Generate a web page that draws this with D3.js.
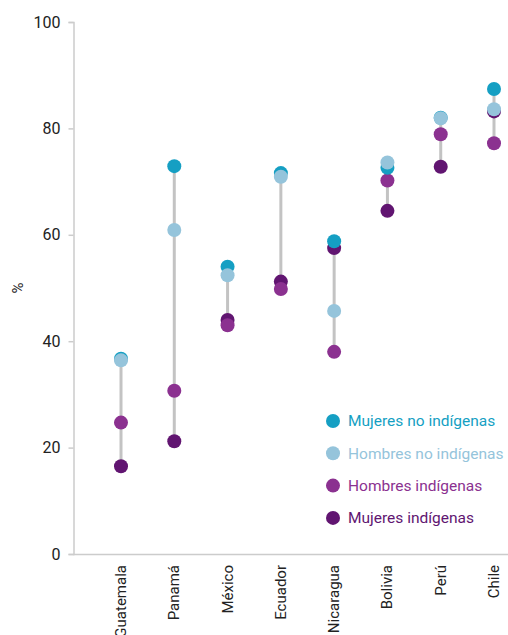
<!DOCTYPE html>
<html lang="es">
<head>
<meta charset="UTF-8">
<title>dumbbell</title>
<script src="https://cdn.jsdelivr.net/npm/d3@7"></script>
<style>
    body { margin: 0; background: #fff; }
    text { font-family: Roboto, "Noto Sans", sans-serif; }
</style>
</head>
<body>
<svg id="chart" width="508" height="635"></svg>
<script>
    // data
    let paises = ["Guatemala", "Panamá", "México", "Ecuador", "Nicaragua", "Bolivia", "Perú", "Chile"];
    let mujeres_no_ind = [36.7, 72.9, 54.0, 71.6, 58.8, 72.6, 82.0, 87.4];
    let hombres_no_ind = [36.4, 60.9, 52.4, 70.9, 45.7, 73.6, 81.9, 83.6];
    let hombres_ind    = [24.7, 30.7, 43.0, 49.8, 38.0, 70.2, 78.9, 77.2];
    let mujeres_ind    = [16.5, 21.2, 44.0, 51.2, 57.5, 64.5, 72.8, 83.2];
    let yTicks = [0, 20, 40, 60, 80, 100];

    // order of the legend (top to bottom) and draw order (back to front)
    let series = [
        {name: "Mujeres no indígenas", values: mujeres_no_ind, color: "#159fc3"},
        {name: "Hombres no indígenas", values: hombres_no_ind, color: "#95c4db"},
        {name: "Hombres indígenas", values: hombres_ind, color: "#8b3190"},
        {name: "Mujeres indígenas", values: mujeres_ind, color: "#611571"}
    ];
    let drawOrder = [3, 2, 0, 1];

    let svg = d3.select("#chart");
    let x = d3.scalePoint().domain(paises).range([121, 494]);
    let y = d3.scaleLinear().domain([0, 100]).range([554, 22]);

    // axes
    let yAxis = svg.append("g")
        .attr("transform", "translate(73.5,0)")
        .call(d3.axisLeft(y).tickValues(yTicks).tickSize(5).tickPadding(8));
    yAxis.select(".domain").attr("stroke", "#cccccc").attr("stroke-width", 1.5);
    yAxis.selectAll(".tick line").attr("stroke", "#cccccc").attr("stroke-width", 1.5);
    yAxis.selectAll(".tick text").attr("font-size", 16).attr("fill", "#222");

    svg.append("line")
        .attr("x1", 73).attr("x2", 508)
        .attr("y1", y(0) + 0.5).attr("y2", y(0) + 0.5)
        .attr("stroke", "#cccccc").attr("stroke-width", 1.5);

    svg.append("g").selectAll("text")
        .data(paises)
        .join("text")
        .attr("transform", d => `translate(${x(d) + 5},565) rotate(-90)`)
        .attr("text-anchor", "end")
        .attr("font-size", 15)
        .attr("fill", "#222")
        .text(d => d);

    svg.append("text")
        .attr("transform", `translate(23,${y(50)}) rotate(-90)`)
        .attr("text-anchor", "middle")
        .attr("font-size", 15)
        .attr("fill", "#222")
        .text("%");

    // range lines
    svg.append("g").selectAll("line")
        .data(paises)
        .join("line")
        .attr("x1", d => x(d)).attr("x2", d => x(d))
        .attr("y1", (d, i) => y(d3.max(series, s => s.values[i])))
        .attr("y2", (d, i) => y(d3.min(series, s => s.values[i])))
        .attr("stroke", "#c3c3c3")
        .attr("stroke-width", 3);

    // dots
    drawOrder.forEach(k => {
        let s = series[k];
        svg.append("g").selectAll("circle")
            .data(s.values)
            .join("circle")
            .attr("cx", (d, i) => x(paises[i]))
            .attr("cy", d => y(d))
            .attr("r", 7)
            .attr("fill", s.color);
    });

    // legend
    let legend = svg.append("g").attr("transform", "translate(333,421)");
    series.forEach((s, i) => {
        let g = legend.append("g").attr("transform", `translate(0,${i * 32.3})`);
        g.append("circle").attr("r", 7).attr("fill", s.color);
        g.append("text")
            .attr("x", 15).attr("dy", "0.35em")
            .attr("font-size", 15.5)
            .attr("fill", s.color)
            .text(s.name);
    });
</script>
</body>
</html>
